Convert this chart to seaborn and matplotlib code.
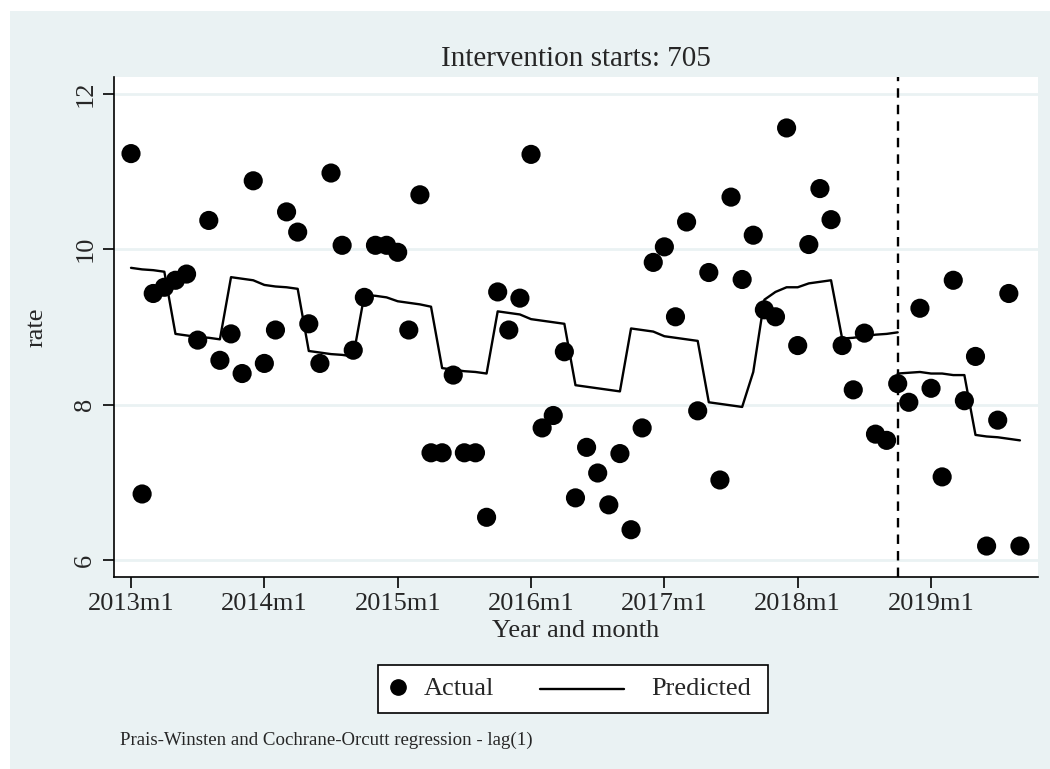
import seaborn as sns
import matplotlib.pyplot as plt
import matplotlib.patches as mpatches
import pandas as pd
import numpy as np

# Stata monthly dates: 636 = 2013m1
ym = np.arange(636, 717)

actual = [11.23, 6.85, 9.43, 9.51, 9.60, 9.68, 8.83, 10.37, 8.57, 8.91,
          8.40, 10.88, 8.53, 8.96, 10.48, 10.22, 9.04, 8.53, 10.98, 10.05,
          8.70, 9.38, 10.05, 10.05, 9.96, 8.96, 10.70, 7.38, 7.38, 8.38,
          7.38, 7.38, 6.55, 9.45, 8.96, 9.37, 11.22, 7.70, 7.86, 8.68,
          6.80, 7.45, 7.12, 6.71, 7.37, 6.39, 7.70, 9.83, 10.03, 9.13,
          10.35, 7.92, 9.70, 7.03, 10.67, 9.61, 10.18, 9.22, 9.13, 11.56,
          8.76, 10.06, 10.78, 10.38, 8.76, 8.19, 8.92, 7.62, 7.54, 8.27,
          8.03, 9.24, 8.21, 7.07, 9.60, 8.05, 8.62, 6.18, 7.80, 9.43,
          6.18]

pred_pre = [9.76, 9.74, 9.73, 9.71, 8.91, 8.89, 8.87, 8.86, 8.84, 9.64,
            9.62, 9.60, 9.54, 9.52, 9.51, 9.49, 8.69, 8.67, 8.65, 8.64,
            8.62, 9.41, 9.40, 9.38, 9.33, 9.31, 9.29, 9.26, 8.47, 8.45,
            8.43, 8.42, 8.40, 9.20, 9.18, 9.16, 9.10, 9.08, 9.06, 9.04,
            8.25, 8.23, 8.21, 8.19, 8.17, 8.98, 8.96, 8.94, 8.88, 8.86,
            8.84, 8.82, 8.03, 8.01, 7.99, 7.97, 8.42, 9.35, 9.45, 9.51,
            9.51, 9.56, 9.58, 9.60, 8.85, 8.86, 8.88, 8.90, 8.91, 8.93]

pred_post = [8.40, 8.41, 8.42, 8.40, 8.40, 8.38, 8.38, 7.61, 7.59, 7.58,
             7.56, 7.54]

intervention = 705
xtick_pos = [636, 648, 660, 672, 684, 696, 708]
xtick_labels = ["2013m1", "2014m1", "2015m1", "2016m1", "2017m1", "2018m1", "2019m1"]
ytick_pos = [6, 8, 10, 12]

df = pd.DataFrame({"ym": ym, "rate": actual})
pre = pd.DataFrame({"ym": ym[:len(pred_pre)], "pred": pred_pre})
post = pd.DataFrame({"ym": ym[-len(pred_post):], "pred": pred_post})

sns.set_style("white")
plt.rcParams["font.family"] = ["Liberation Serif", "DejaVu Serif"]

bg = "#EAF2F3"
W, H = 1050, 769
fig = plt.figure(figsize=(W / 100, H / 100), dpi=100)
fig.patch.set_facecolor("white")
fig.patches.append(mpatches.Rectangle((10 / W, 0), 1, 1 - 11 / H,
                                      transform=fig.transFigure,
                                      facecolor=bg, edgecolor="none", zorder=-10))

ax = fig.add_axes([0.1089, 0.2501, 0.8794, 0.6498])
ax.set_facecolor("white")

sns.scatterplot(data=df, x="ym", y="rate", ax=ax, color="black", s=190,
                edgecolor="none", zorder=3)
sns.lineplot(data=pre, x="ym", y="pred", ax=ax, color="black", lw=1.7, zorder=2)
sns.lineplot(data=post, x="ym", y="pred", ax=ax, color="black", lw=1.7, zorder=2)
ax.axvline(intervention, color="black", lw=1.7, ls=(0, (4, 3)), zorder=2)

ax.set_xlim(634.5, 717.6)
ax.set_ylim(5.786, 12.216)
ax.set_xticks(xtick_pos)
ax.set_xticklabels(xtick_labels, fontsize=19)
ax.set_yticks(ytick_pos)
ax.set_yticklabels([str(v) for v in ytick_pos], fontsize=19, rotation=90, va="center")
ax.tick_params(axis="both", direction="out", length=8, width=1.2, color="black",
               bottom=True, left=True)
ax.tick_params(axis="y", pad=5)
ax.yaxis.grid(True, color=bg, lw=2)
ax.set_axisbelow(True)
for side in ["top", "right"]:
    ax.spines[side].set_visible(False)
for side in ["left", "bottom"]:
    ax.spines[side].set_color("black")
    ax.spines[side].set_linewidth(1.2)

ax.set_xlabel("Year and month", fontsize=19, labelpad=4)
ax.set_ylabel("rate", fontsize=19, labelpad=19)
ax.set_title("Intervention starts: 705", fontsize=21, pad=8)


def fx(px):
    return px / W


def fy(py):
    return 1 - py / H


# legend drawn by hand (Stata style: small marker key, long line key)
fig.add_artist(mpatches.Rectangle((fx(378), fy(713)), fx(768) - fx(378), fy(665) - fy(713),
                                  transform=fig.transFigure, facecolor="white",
                                  edgecolor="black", lw=1.2))
fig.add_artist(plt.Line2D([fx(398)], [fy(687)], marker="o", color="black",
                          markersize=11, transform=fig.transFigure))
fig.text(fx(424), fy(689), "Actual", fontsize=19, ha="left", va="center")
fig.add_artist(plt.Line2D([fx(540), fx(624)], [fy(689), fy(689)], color="black",
                          lw=1.7, transform=fig.transFigure))
fig.text(fx(651), fy(689), "Predicted", fontsize=19, ha="left", va="center")

fig.text(fx(120), fy(740), "Prais-Winsten and Cochrane-Orcutt regression - lag(1)",
         fontsize=13.6, va="center", ha="left")

fig.savefig("out.png", dpi=100)
plt.close()
